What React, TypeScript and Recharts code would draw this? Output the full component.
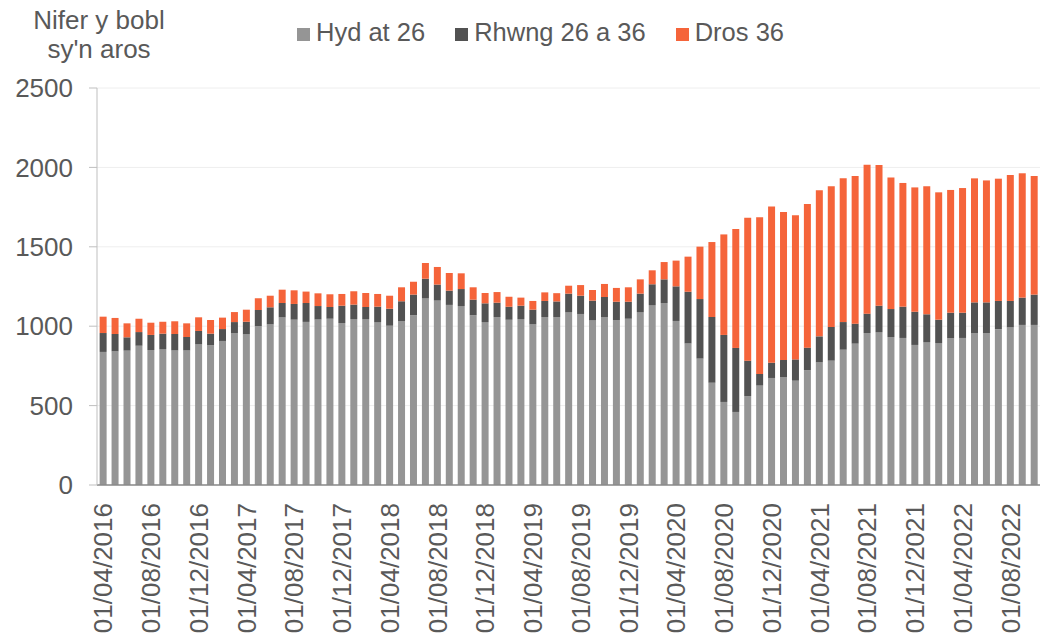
import { BarChart, Bar, XAxis, YAxis, CartesianGrid } from "recharts";

const months = [
  "01/04/2016", "01/05/2016", "01/06/2016", "01/07/2016", "01/08/2016", "01/09/2016", "01/10/2016", "01/11/2016", "01/12/2016",
  "01/01/2017", "01/02/2017", "01/03/2017", "01/04/2017", "01/05/2017", "01/06/2017", "01/07/2017", "01/08/2017", "01/09/2017",
  "01/10/2017", "01/11/2017", "01/12/2017", "01/01/2018", "01/02/2018", "01/03/2018", "01/04/2018", "01/05/2018", "01/06/2018",
  "01/07/2018", "01/08/2018", "01/09/2018", "01/10/2018", "01/11/2018", "01/12/2018", "01/01/2019", "01/02/2019", "01/03/2019",
  "01/04/2019", "01/05/2019", "01/06/2019", "01/07/2019", "01/08/2019", "01/09/2019", "01/10/2019", "01/11/2019", "01/12/2019",
  "01/01/2020", "01/02/2020", "01/03/2020", "01/04/2020", "01/05/2020", "01/06/2020", "01/07/2020", "01/08/2020", "01/09/2020",
  "01/10/2020", "01/11/2020", "01/12/2020", "01/01/2021", "01/02/2021", "01/03/2021", "01/04/2021", "01/05/2021", "01/06/2021",
  "01/07/2021", "01/08/2021", "01/09/2021", "01/10/2021", "01/11/2021", "01/12/2021", "01/01/2022", "01/02/2022", "01/03/2022",
  "01/04/2022", "01/05/2022", "01/06/2022", "01/07/2022", "01/08/2022", "01/09/2022", "01/10/2022",
];

// Hyd at 26
const under26 = [
  838, 842, 846, 877, 850, 856, 848, 848, 886, 880, 907, 957, 949, 1001, 1012, 1056, 1041, 1027, 1043, 1047,
  1020, 1045, 1045, 1026, 1003, 1031, 1068, 1177, 1161, 1134, 1127, 1068, 1026, 1058, 1041, 1045, 1012, 1058, 1058, 1089,
  1077, 1037, 1058, 1039, 1047, 1089, 1133, 1146, 1033, 892, 796, 644, 523, 460, 560, 626, 674, 678, 657, 724,
  772, 783, 852, 890, 957, 963, 932, 926, 882, 900, 894, 924, 926, 957, 957, 980, 993, 1008, 1008,
];

// Rhwng 26 a 36
const between26and36 = [
  119, 109, 84, 86, 95, 97, 103, 84, 84, 73, 75, 69, 79, 101, 107, 90, 99, 119, 84, 74,
  109, 91, 76, 97, 107, 126, 131, 122, 101, 90, 107, 99, 118, 90, 82, 84, 92, 101, 98, 116,
  115, 124, 126, 115, 107, 116, 131, 149, 218, 325, 375, 414, 422, 403, 223, 73, 96, 109, 134, 141,
  164, 212, 174, 126, 122, 166, 176, 197, 209, 175, 147, 161, 159, 193, 193, 179, 166, 172, 191,
];

// Dros 36
const over36 = [
  103, 101, 88, 84, 77, 75, 80, 86, 86, 86, 72, 63, 76, 74, 73, 84, 86, 72, 80, 80,
  74, 84, 88, 80, 82, 88, 81, 99, 111, 111, 99, 78, 65, 67, 63, 51, 55, 54, 52, 50,
  67, 67, 82, 87, 91, 90, 88, 109, 162, 221, 330, 472, 633, 749, 900, 987, 983, 932, 907, 904,
  920, 886, 905, 930, 938, 886, 829, 779, 783, 806, 802, 773, 785, 781, 768, 770, 793, 783, 747,
];

const yTicks = [0, 500, 1000, 1500, 2000, 2500];

const seriesNames = ["Hyd at 26", "Rhwng 26 a 36", "Dros 36"];
const seriesColors = ["#959595", "#525252", "#F5643A"];

const data = months.map((m, i) => ({
  month: m,
  a: under26[i],
  b: between26and36[i],
  c: over36[i],
}));

const FONT = "'Liberation Sans', Arial, sans-serif";
const TEXT = "#595959";

const XTick = ({ x, y, payload }: any) => (
  <text
    transform={`translate(${x},${y + 18}) rotate(-90)`}
    textAnchor="end"
    dy="0.36em"
    fontSize={26}
    fill={TEXT}
    fontFamily={FONT}
  >
    {payload.value}
  </text>
);

export default function App() {
  return (
    <div style={{ position: "relative", width: 1040, height: 637, background: "#fff" }}>
      <style>{"body{margin:0}"}</style>
      <div
        style={{
          position: "absolute",
          left: 19,
          top: 6,
          width: 160,
          textAlign: "center",
          fontFamily: FONT,
          fontSize: 26,
          lineHeight: "29px",
          color: TEXT,
        }}
      >
        Nifer y bobl
        <br />
        sy'n aros
      </div>
      {/* legend */}
      <div
        style={{
          position: "absolute",
          left: 297,
          top: 18,
          display: "flex",
          fontFamily: FONT,
          fontSize: 25.5,
          lineHeight: "29px",
          color: TEXT,
        }}
      >
        {seriesNames.map((n, i) => (
          <span key={n} style={{ display: "flex", alignItems: "center", marginRight: 30 }}>
            <span style={{ width: 13, height: 13, background: seriesColors[i], marginRight: 6, marginTop: 4 }} />
            {n}
          </span>
        ))}
      </div>
      <BarChart
        width={1040}
        height={637}
        data={data}
        margin={{ top: 88, right: 0, left: 0, bottom: 0 }}
        barCategoryGap="22%"
      >
        <CartesianGrid vertical={false} stroke="#eeeeee" />
        <XAxis
          dataKey="month"
          interval={3}
          height={152}
          tick={<XTick />}
          tickLine={false}
          tickSize={0}
          tickMargin={0}
          axisLine={{ stroke: "#8a8a8a", strokeWidth: 1.5 }}
        />
        <YAxis
          width={97}
          domain={[0, 2500]}
          ticks={yTicks}
          tickSize={8}
          tickMargin={16}
          tick={{ fontSize: 26, fill: TEXT, fontFamily: FONT }}
          axisLine={{ stroke: "#bfbfbf" }}
          tickLine={{ stroke: "#bfbfbf" }}
        />
        <Bar dataKey="a" name={seriesNames[0]} stackId="s" fill={seriesColors[0]} isAnimationActive={false} />
        <Bar dataKey="b" name={seriesNames[1]} stackId="s" fill={seriesColors[1]} isAnimationActive={false} />
        <Bar dataKey="c" name={seriesNames[2]} stackId="s" fill={seriesColors[2]} isAnimationActive={false} />
      </BarChart>
    </div>
  );
}
